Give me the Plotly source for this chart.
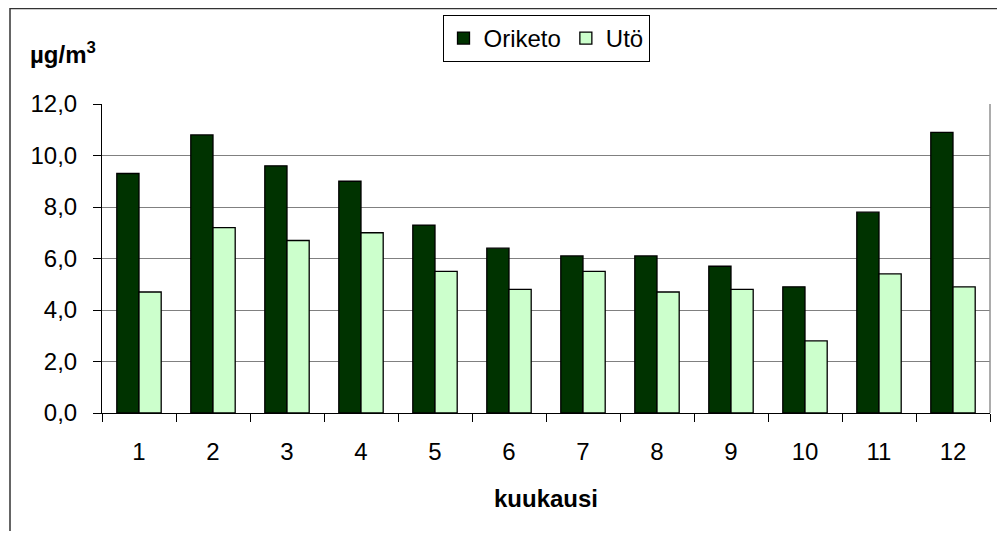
import plotly.graph_objects as go

months = ["1", "2", "3", "4", "5", "6", "7", "8", "9", "10", "11", "12"]
oriketo = [9.3, 10.8, 9.6, 9.0, 7.3, 6.4, 6.1, 6.1, 5.7, 4.9, 7.8, 10.9]
uto = [4.7, 7.2, 6.7, 7.0, 5.5, 4.8, 5.5, 4.7, 4.8, 2.8, 5.4, 4.9]
yticks = [0, 2, 4, 6, 8, 10, 12]
yticklabels = ["0,0", "2,0", "4,0", "6,0", "8,0", "10,0", "12,0"]

FONT = "Liberation Sans, Arial, sans-serif"
FS = 24

fig = go.Figure()
fig.add_trace(go.Bar(x=months, y=oriketo, name="Oriketo",
                     marker=dict(color="#003300", line=dict(color="#000000", width=1.3))))
fig.add_trace(go.Bar(x=months, y=uto, name="Utö",
                     marker=dict(color="#CCFFCC", line=dict(color="#000000", width=1.3))))

fig.update_layout(
    width=989, height=523,
    margin=dict(l=94, r=7, t=96, b=118, autoexpand=False),
    paper_bgcolor="white", plot_bgcolor="white",
    barmode="group", bargap=0.4, bargroupgap=0,
    font=dict(family=FONT, size=FS, color="#000000"),
    showlegend=True,
    legend=dict(orientation="h", x=0.5, xanchor="center", y=1.288, yanchor="top",
                bordercolor="#000000", borderwidth=1, bgcolor="white",
                font=dict(size=FS), itemwidth=30, tracegroupgap=0),
    xaxis=dict(type="category", showgrid=False, showline=True, linecolor="#000000",
               linewidth=1, ticks="outside", tickson="boundaries", ticklen=8,
               tickcolor="#000000", ticklabelstandoff=17,
               title=dict(text="<b>kuukausi</b>", font=dict(size=FS), standoff=26)),
    yaxis=dict(range=[0, 12], tickvals=yticks, ticktext=yticklabels,
               showgrid=True, gridcolor="#808080", gridwidth=1,
               showline=True, linecolor="#000000", linewidth=1,
               ticks="outside", ticklen=8, tickcolor="#000000",
               ticklabelstandoff=11, zeroline=False),
)

fig.add_annotation(text="<b>µg/m<sup>3</sup></b>", xref="paper", yref="paper",
                   x=-0.083, y=1.165, xanchor="left", yanchor="middle",
                   showarrow=False, font=dict(size=FS))

# right border of plot area
fig.add_shape(type="line", xref="paper", yref="paper", x0=1, x1=1, y0=0, y1=1,
              line=dict(color="#909090", width=1.5))
# outer chart frame
fig.add_shape(type="rect", xref="paper", yref="paper", x0=-0.1036, x1=1.05,
              y0=-0.45, y1=1.309, line=dict(color="#333333", width=1.5), layer="below")

fig.write_html("out.html")
